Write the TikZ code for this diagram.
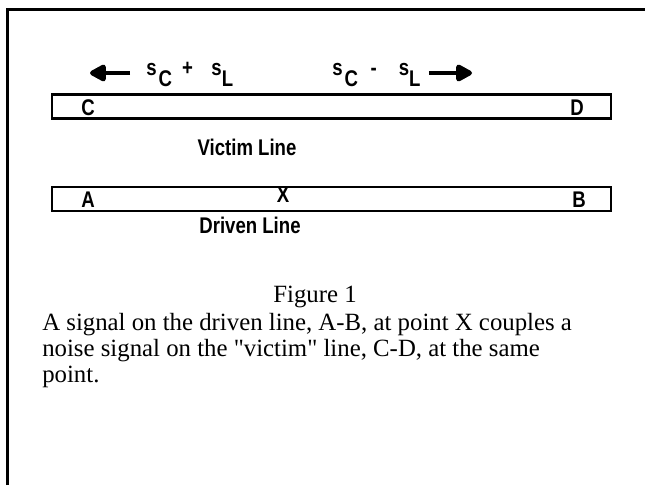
\documentclass[tikz,border=0pt]{standalone}
\usepackage{fontspec}
\setmainfont{Liberation Serif}
\newfontfamily\diagfont[FakeStretch=0.82]{Liberation Sans}
\usetikzlibrary{arrows.meta,positioning}
\newcommand{\lowsub}[1]{\raisebox{-8.25pt}{#1}}

\begin{document}
\begin{tikzpicture}[x=0.75pt,y=-0.75pt,
  wire/.style={draw,line width=2pt,minimum width=419.25pt,minimum height=18pt,inner sep=0pt},
  tag/.style={font=\diagfont\bfseries\fontsize{17}{18}\selectfont,inner sep=0pt},
  flow/.style={line width=3.5pt,-{Triangle[width=14pt,length=14pt,round]}},
  body/.style={font=\fontsize{18.6}{19.5}\selectfont}]
\useasboundingbox (0,0) rectangle (645,485);
\draw[line width=2.2pt] (7.5,485) -- (7.5,9.5) -- (645,9.5);
% the two lines
\node[wire] (victim) at (331.5,106.5) {};
\node[wire] (driven) at (331.5,199) {};
\node[tag,anchor=base] (C) at (88,115) {C};
\node[tag,anchor=base] (D) at (577,115) {D};
\node[tag,anchor=base] (A) at (88,207) {A};
\node[tag,anchor=base] (X) at (283,202) {X};
\node[tag,anchor=base] (B) at (579,207) {B};
\node[tag,anchor=base] (vname) at (247,155) {Victim Line};
\node[tag,anchor=base] (dname) at (250,233) {Driven Line};
% signals travelling both ways
\node[tag,anchor=base west] (back) at (146,75)
  {s\hspace{1.5pt}\lowsub{C}\hspace{7.5pt}+\hspace{13.9pt}s\lowsub{L}};
\node[tag,anchor=base west] (fwd) at (332,75)
  {s\hspace{1.5pt}\lowsub{C}\hspace{9.5pt}-\hspace{16.5pt}s\lowsub{L}};
\coordinate (tipL) at (90,73);
\coordinate (tipR) at (472,73);
\draw[flow,shorten <=12pt] (back.west |- tipL) -- (tipL);
\draw[flow,shorten <=6pt] (fwd.east |- tipR) -- (tipR);
% caption
\node[body,anchor=base] (fig) at (315,302) {Figure 1};
\node[body,anchor=north west,align=left,inner sep=0pt] (cap) at (42,313)
  {A signal on the driven line, A-B, at point X couples a\\
   noise signal on the \textquotedbl victim\textquotedbl{} line, C-D, at the same\\
   point.};
\end{tikzpicture}
\end{document}
